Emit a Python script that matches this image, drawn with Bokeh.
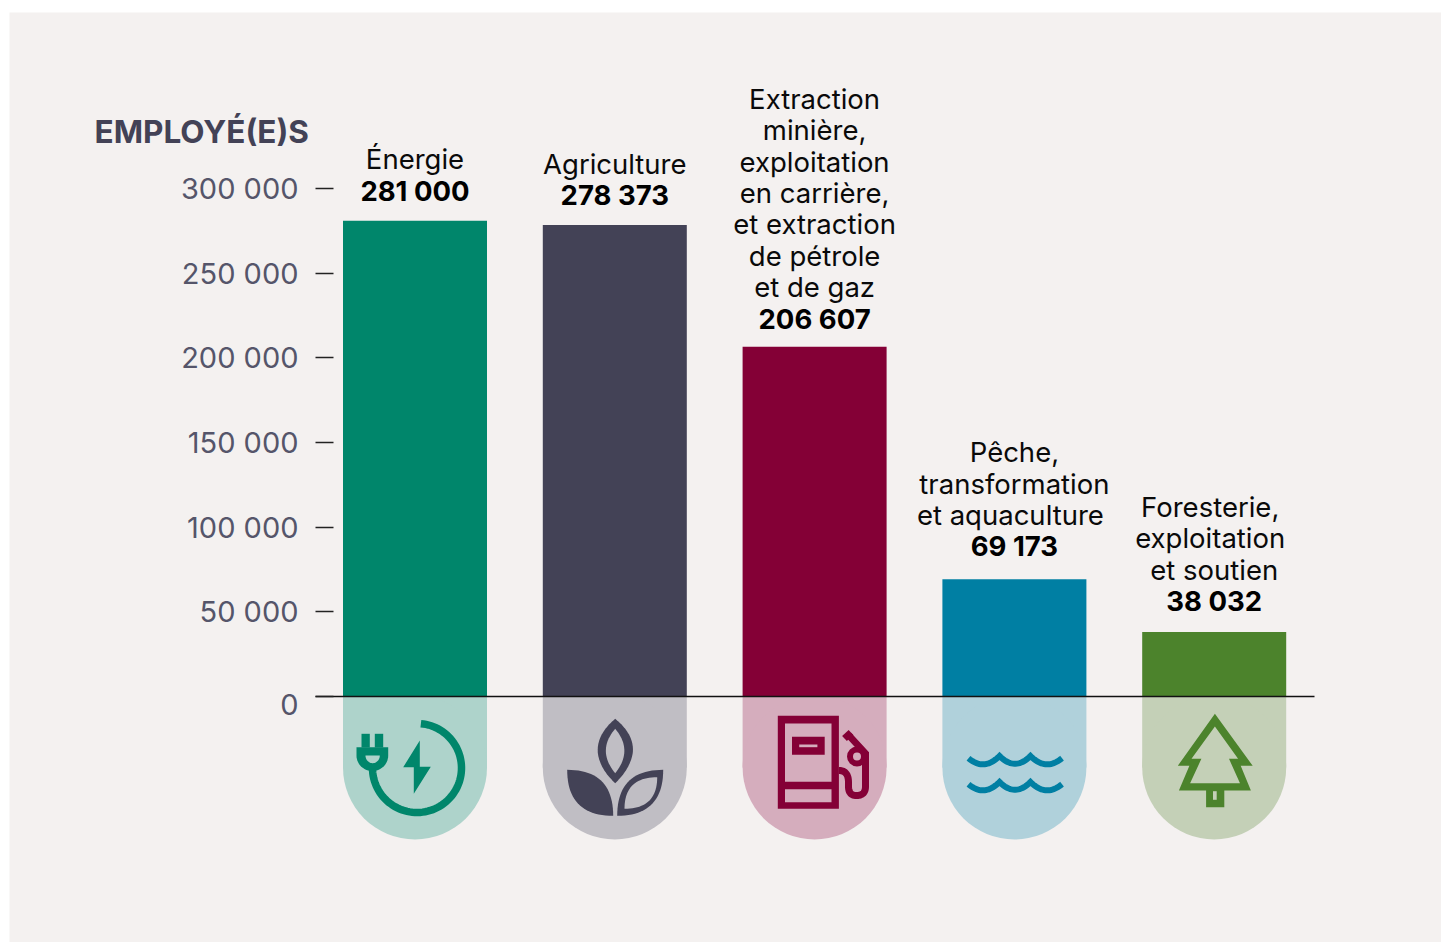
import numpy as np
from bokeh.plotting import figure
from bokeh.models import Range1d, FixedTicker
from bokeh.core.properties import value
from bokeh.embed import file_html
from bokeh.resources import INLINE

categories = [
    ["Énergie"],
    ["Agriculture"],
    ["Extraction", "minière,", "exploitation", "en carrière,", "et extraction", "de pétrole", "et de gaz"],
    ["Pêche,", "transformation", "et aquaculture"],
    ["Foresterie,", "exploitation", "et soutien"],
]
employees = [281000, 278373, 206607, 69173, 38032]
value_labels = ["281 000", "278 373", "206 607", "69 173", "38 032"]
bar_colors = ["#00866b", "#434256", "#840036", "#007fa3", "#4c832c"]
tint_colors = ["#aed3cb", "#c0bec4", "#d5adbd", "#b0d1db", "#c4d0b7"]
tick_values = [0, 50000, 100000, 150000, 200000, 250000, 300000]
tick_labels = ["", "50 000", "100 000", "150 000", "200 000", "250 000", "300 000"]
axis_title = "EMPLOYÉ(E)S"
zero_label = "0"

BG = "#f4f1f0"
FONT = "Inter"
INK = "#55556a"
X_PER = 199.8
Y_PER = 508 / 300000
X0, Y0 = 414.5, 696
PW, PH = 1432, 930
LEFT, RIGHT = 315, 1314
TOP, BOTTOM = 12, 942


def dx(px):
    return (np.asarray(px, dtype=float) - X0) / X_PER


def dy(py):
    return (Y0 - np.asarray(py, dtype=float)) / Y_PER


p = figure(
    width=PW, height=PH, output_backend="svg", toolbar_location=None,
    x_range=Range1d(dx(9), dx(9 + PW)), y_range=Range1d(dy(BOTTOM), dy(TOP)),
    x_axis_location=None, min_border_left=0, min_border_right=0,
    min_border_top=0, min_border_bottom=0,
    background_fill_color=BG, border_fill_color=BG, outline_line_color=None,
)
p.margin = (12, 0, 0, 9)
p.grid.visible = False

ax = p.yaxis[0]
ax.fixed_location = float(dx(LEFT))
ax.ticker = FixedTicker(ticks=tick_values)
ax.major_label_overrides = dict(zip(tick_values, tick_labels))
ax.axis_line_color = None
ax.major_tick_in = 18
ax.major_tick_out = 0
ax.minor_tick_line_color = None
ax.major_tick_line_color = "#222222"
ax.major_tick_line_width = 1.5
ax.major_label_standoff = 17
ax.major_label_text_font = FONT
ax.major_label_text_font_size = "29px"
ax.major_label_text_color = INK

xs = np.arange(len(employees), dtype=float)
bw = 144 / X_PER
caps_bottom = dy(767)

p.vbar(x=xs, width=bw, top=0, bottom=caps_bottom, fill_color=tint_colors, line_color=None)
p.circle(x=xs, y=[caps_bottom] * 5, radius=72 / X_PER, fill_color=tint_colors, line_color=None)
p.vbar(x=xs, width=bw, top=employees, bottom=0, fill_color=bar_colors, line_color=None)
p.segment(x0=[dx(LEFT)], y0=[0], x1=[dx(RIGHT)], y1=[0], line_color="#111111", line_width=1.5)

# labels above the bars
value_gap = [30, 30, 28, 33, 31]
line_shift = {(3, 2): -4, (4, 0): -4, (4, 1): -4}
tx, ty, tt, ox, oy = [], [], [], [], []
for i, lines in enumerate(categories):
    for k, s in enumerate(reversed(lines)):
        tx.append(xs[i]); ty.append(employees[i]); tt.append(s)
        ox.append(line_shift.get((i, len(lines) - 1 - k), 0))
        oy.append(-(value_gap[i] + 31.4 * (k + 1)))
p.text(x=tx, y=ty, text=tt, x_offset=ox, y_offset=oy, text_font=value(FONT), text_font_size="27.5px",
       text_color="#0a0a0a", text_align="center", text_baseline="alphabetic")
p.text(x=xs, y=employees, text=value_labels, y_offset=[-g for g in value_gap], text_font=value(FONT),
       text_font_size="27.5px", text_font_style="bold", text_color="#000000", text_align="center",
       text_baseline="alphabetic")

p.text(x=[dx(94)], y=[dy(131)], text=[axis_title], text_font=value(FONT), text_font_size="31.5px",
       text_font_style="bold", text_color="#434256", text_baseline="alphabetic", text_align="left")
p.text(x=[dx(298)], y=[dy(704)], text=[zero_label], text_font=value(FONT), text_font_size="29px",
       text_color=INK, text_baseline="alphabetic", text_align="right")


# ---------- icons, drawn in page pixels through the same scales ----------
def quad(a, c, b, n=24):
    t = np.linspace(0, 1, n)[:, None]
    a, c, b = map(lambda v: np.array(v, dtype=float), (a, c, b))
    return (1 - t) ** 2 * a + 2 * t * (1 - t) * c + t ** 2 * b


def arc_pts(cx, cy, rx, ry, a0, a1, n=30):
    t = np.radians(np.linspace(a0, a1, n))
    return np.c_[cx + rx * np.cos(t), cy + ry * np.sin(t)]


def poly(pts, color):
    pts = np.asarray(pts, dtype=float)
    p.patch(dx(pts[:, 0]), dy(pts[:, 1]), fill_color=color, line_color=None)


def stroke(pts, color, w, cap="butt"):
    pts = np.asarray(pts, dtype=float)
    p.line(dx(pts[:, 0]), dy(pts[:, 1]), line_color=color, line_width=w, line_cap=cap, line_join="miter")


def rect(x0, y0, x1, y1, color):
    poly([(x0, y0), (x1, y0), (x1, y1), (x0, y1)], color)


# energy
c, t = bar_colors[0], tint_colors[0]
stroke(arc_pts(416.5, 767.5, 44.5, 44.5, -85, 180, 80), c, 7.5)
rect(361, 733.3, 369.3, 747, c)
rect(374.3, 733.3, 382.7, 747, c)
poly(np.r_[[(356, 746.7), (387.7, 746.7)], arc_pts(371.85, 755, 15.85, 15.5, 0, 180)], c)
poly(np.r_[[(365, 755), (379.3, 755)], arc_pts(372.15, 755, 7.15, 7.7, 0, 180)], t)
poly([(419.3, 740), (402.7, 766.7), (413.3, 766.7), (413.3, 793.3), (430.3, 766.3), (419.3, 766.3)], c)

# plant
c, t = bar_colors[1], tint_colors[1]
poly(np.r_[quad((614.7, 718.3), (634, 734), (632.3, 752))[:-1], quad((632.3, 752), (630, 768), (614.7, 782.7))[:-1],
           quad((614.7, 782.7), (599, 768), (597.3, 752))[:-1], quad((597.3, 752), (596, 734), (614.7, 718.3))], c)
poly(np.r_[quad((614.7, 728.3), (633, 750), (614.7, 772.7))[:-1], quad((614.7, 772.7), (596, 750), (614.7, 728.3))], t)
poly(np.r_[quad((566.7, 769.3), (612.7, 769.3), (612.7, 815.3))[:-1], quad((612.7, 815.3), (566.7, 815.3), (566.7, 769.3))], c)
poly(np.r_[quad((662.7, 769.3), (616.7, 769.3), (616.7, 815.3))[:-1], quad((616.7, 815.3), (662.7, 815.3), (662.7, 769.3))], c)
poly(np.r_[quad((656.7, 776.7), (624, 776.7), (624, 808.3))[:-1], quad((624, 808.3), (656.7, 808.3), (656.7, 776.7))], t)

# fuel pump
c, t = bar_colors[2], tint_colors[2]
rect(777.3, 715.3, 838.4, 808.3, c)
rect(784.5, 723, 831, 781.3, t)
rect(784.5, 788.7, 831, 801.7, t)
rect(791.5, 736.3, 824.2, 754.3, c)
rect(798.7, 744, 816.9, 746.7, t)
stroke(np.r_[quad((838.4, 770), (848, 770), (848, 782)), [(848, 786)],
             quad((848, 786), (848, 795), (856, 795)), quad((856, 795), (865, 795), (865, 786)),
             [(865, 753)], [(848, 734.5)]], c, 7)
stroke([(844, 738), (850.5, 732)], c, 7)
p.circle(dx([856.5]), dy([756]), radius=7 / X_PER, fill_color=t, line_color=c, line_width=6)

# waves
c = bar_colors[3]
for off in (0, 26):
    stroke(np.r_[quad((968, 757.7 + off), (983.5, 771 + off), (999, 755.5 + off))[:-1],
                 quad((999, 755.5 + off), (1014.5, 771 + off), (1030, 755.5 + off))[:-1],
                 quad((1030, 755.5 + off), (1045.5, 771 + off), (1061.5, 757.7 + off))], c, 6)

# tree
c, t = bar_colors[4], tint_colors[4]
poly([(1214.4, 713.3), (1252.2, 765.3), (1240.2, 765.3), (1250.4, 790), (1223.8, 790), (1223.8, 806.7),
      (1205.6, 806.7), (1205.6, 790), (1178.4, 790), (1188.9, 765.3), (1177.3, 765.3)], c)
poly([(1214.4, 726), (1237.6, 758.3), (1228.5, 758.3), (1239.5, 782.7), (1189.6, 782.7), (1200.9, 758.3), (1191, 758.3)], t)
rect(1212.5, 790.7, 1216.2, 799.3, t)

open("out.html", "w").write(file_html(p, INLINE))
